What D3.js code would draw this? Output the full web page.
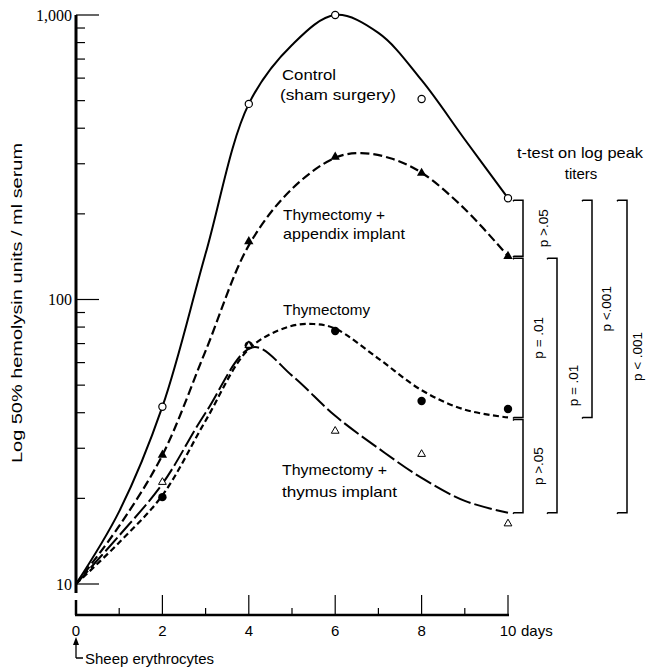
<!DOCTYPE html>
<html><head><meta charset="utf-8">
<script src="https://cdn.jsdelivr.net/npm/d3@7/dist/d3.min.js"></script>
<style>body{margin:0;background:#fff}svg{display:block}</style>
</head><body><svg id="c" width="646" height="670"></svg>
<script>
// ---- data ----
const pointDays = [2, 4, 6, 8, 10];
const controlPoints = [42, 487, 1000, 507, 227];
const appendixPoints = [28.4, 160, 317, 278, 142];
const thymectomyPoints = [20.2, 69, 77.5, 44, 41.2];
const thymusPoints = [22.8, 69, 34.5, 28.6, 16.3];

// fitted curves as drawn in the figure
const controlCurveDays = [0, 1, 2, 3, 4, 5, 6, 7, 8, 9, 10];
const controlCurve = [10, 18, 42, 145, 487, 785, 1000, 865, 590, 365, 227];
const appendixCurveDays = [0, 1, 2, 3, 4, 5, 6, 6.6, 7.3, 8, 9, 10];
const appendixCurve = [10, 16, 28.4, 66, 155, 245, 315, 327, 313, 279, 208, 142];
const thymectomyCurveDays = [0, 1, 2, 3, 4, 4.9, 5.5, 6, 7, 8, 9, 10];
const thymectomyCurve = [10, 14, 20.5, 37.5, 67, 80, 82, 79, 62, 48, 41, 38.5];
const thymusCurveDays = [0, 1, 2, 3, 4.1, 5, 6, 7, 8, 9, 10];
const thymusCurve = [10, 14.8, 22.5, 40, 68, 54, 39, 30, 23.6, 19.6, 17.8];

const xMajorTicks = [0, 2, 4, 6, 8, 10];
const xTickLabels = ["0", "2", "4", "6", "8", "10"];
const xMinorTicks = [1, 3, 5, 7, 9];
const yMajorTicks = [10, 100, 1000];
const yTickLabels = ["10", "100", "1,000"];
const yMinorTicks = [20, 30, 40, 50, 60, 70, 80, 90, 200, 300, 400, 500, 600, 700, 800, 900];
const pLabels = ["p >.05", "p = .01", "p >.05", "p = .01", "p <.001", "p < .001"];

// ---- drawing ----
const svg = d3.select("#c");
const x = d3.scaleLinear().domain([0, 10]).range([76, 508]);
const y = d3.scaleLog().domain([10, 1000]).range([584, 15]);
const sans = "Liberation Sans, Arial, sans-serif";
const serif = "Liberation Serif, Times New Roman, serif";

// y axis
svg.append("line").attr("x1", 76).attr("x2", 76).attr("y1", y(1000)).attr("y2", 593)
  .attr("stroke", "#000").attr("stroke-width", 3);
svg.selectAll(".ymaj").data(yMajorTicks).enter().append("line")
  .attr("x1", 76).attr("x2", 99).attr("y1", d => y(d)).attr("y2", d => y(d))
  .attr("stroke", "#000").attr("stroke-width", 1.2);
svg.selectAll(".ymin").data(yMinorTicks).enter().append("line")
  .attr("x1", 76).attr("x2", 85).attr("y1", d => y(d)).attr("y2", d => y(d))
  .attr("stroke", "#000").attr("stroke-width", 1.2);
svg.selectAll(".ylab").data(yMajorTicks).enter().append("text")
  .attr("x", 72).attr("y", d => y(d)).attr("dy", "0.35em")
  .attr("text-anchor", "end").attr("font-family", serif).attr("font-size", 16)
  .text((d, i) => yTickLabels[i]);

// x axis
const xAxisY = 615;
svg.append("line").attr("x1", x(0) - 1).attr("x2", x(10) + 1).attr("y1", xAxisY).attr("y2", xAxisY)
  .attr("stroke", "#000").attr("stroke-width", 2.5);
svg.selectAll(".xmaj").data(xMajorTicks).enter().append("line")
  .attr("x1", d => x(d)).attr("x2", d => x(d)).attr("y1", xAxisY).attr("y2", d => d === 0 ? 600 : 595)
  .attr("stroke", "#000").attr("stroke-width", d => d === 0 ? 2.5 : 1.2);
svg.selectAll(".xmin").data(xMinorTicks).enter().append("line")
  .attr("x1", d => x(d)).attr("x2", d => x(d)).attr("y1", xAxisY).attr("y2", 608)
  .attr("stroke", "#000").attr("stroke-width", 1.2);
svg.selectAll(".xlab").data(xMajorTicks).enter().append("text")
  .attr("x", d => x(d)).attr("y", 636).attr("text-anchor", "middle")
  .attr("font-family", sans).attr("font-size", 15)
  .text((d, i) => xTickLabels[i]);
svg.append("text").attr("x", x(10) + 13).attr("y", 636)
  .attr("font-family", sans).attr("font-size", 15).text("days");

// y title
svg.append("text").attr("transform", "translate(17,303) rotate(-90)")
  .attr("text-anchor", "middle").attr("dy", "0.35em")
  .attr("font-family", sans).attr("font-size", 14)
  .attr("textLength", 320).attr("lengthAdjust", "spacingAndGlyphs")
  .text("Log 50% hemolysin units / ml serum");

// Sheep erythrocytes annotation
svg.append("path").attr("d", "M76,658 L76,642 M83,658 L76,658")
  .attr("fill", "none").attr("stroke", "#000").attr("stroke-width", 1.3);
svg.append("path").attr("d", "M76,637 L73,645 L79,645 Z").attr("fill", "#000");
svg.append("text").attr("x", 85).attr("y", 664)
  .attr("font-family", sans).attr("font-size", 15)
  .attr("textLength", 129).attr("lengthAdjust", "spacingAndGlyphs")
  .text("Sheep erythrocytes");

// curves
const line = d3.line().x(d => x(d[0])).y(d => y(d[1])).curve(d3.curveCatmullRom.alpha(0.5));
const series = [
  {days: controlCurveDays, vals: controlCurve, dash: null, w: 2},
  {days: appendixCurveDays, vals: appendixCurve, dash: "9,4", w: 2.2},
  {days: thymectomyCurveDays, vals: thymectomyCurve, dash: "6,3.5", w: 2.2},
  {days: thymusCurveDays, vals: thymusCurve, dash: "18,4", w: 2}
];
series.forEach(s => {
  svg.append("path").datum(s.days.map((d, i) => [d, s.vals[i]]))
    .attr("d", line).attr("fill", "none").attr("stroke", "#000")
    .attr("stroke-width", s.w).attr("stroke-dasharray", s.dash);
});

// markers
const pts = arr => pointDays.map((d, i) => [d, arr[i]]);
svg.selectAll(".mth").data(pts(thymusPoints)).enter().append("path")
  .attr("transform", d => `translate(${x(d[0])},${y(d[1])})`)
  .attr("d", d3.symbol(d3.symbolTriangle, 26)).attr("fill", "#fff").attr("stroke", "#000").attr("stroke-width", 1);
svg.selectAll(".mtc").data(pts(thymectomyPoints)).enter().append("circle")
  .attr("cx", d => x(d[0])).attr("cy", d => y(d[1])).attr("r", 4.2).attr("fill", "#000");
svg.selectAll(".map").data(pts(appendixPoints)).enter().append("path")
  .attr("transform", d => `translate(${x(d[0])},${y(d[1])})`)
  .attr("d", d3.symbol(d3.symbolTriangle, 38)).attr("fill", "#000");
svg.selectAll(".mct").data(pts(controlPoints)).enter().append("circle")
  .attr("cx", d => x(d[0])).attr("cy", d => y(d[1])).attr("r", 3.6)
  .attr("fill", "#fff").attr("stroke", "#000").attr("stroke-width", 1.2);
// open triangle visible inside filled circle at day 4
svg.append("path").attr("transform", `translate(${x(4)},${y(thymusPoints[1])})`)
  .attr("d", d3.symbol(d3.symbolTriangle, 10)).attr("fill", "#fff");

// curve labels
function label(xp, yp, txt, len) {
  svg.append("text").attr("x", xp).attr("y", yp).attr("font-family", sans).attr("font-size", 15)
    .attr("textLength", len).attr("lengthAdjust", "spacingAndGlyphs").text(txt);
}
label(282, 80, "Control", 54);
label(280, 100, "(sham surgery)", 116);
label(283, 220, "Thymectomy +", 102);
label(283, 239, "appendix implant", 122);
label(283, 315, "Thymectomy", 87);
label(282, 475, "Thymectomy +", 105);
label(282, 497, "thymus implant", 115);

// t-test title
svg.append("text").attr("x", 580).attr("y", 158).attr("text-anchor", "middle")
  .attr("font-family", sans).attr("font-size", 15)
  .attr("textLength", 126).attr("lengthAdjust", "spacingAndGlyphs").text("t-test on log peak");
svg.append("text").attr("x", 581).attr("y", 179).attr("text-anchor", "middle")
  .attr("font-family", sans).attr("font-size", 15).text("titers");

// brackets linking day-10 curve ends
const lv = [controlCurve, appendixCurve, thymectomyCurve, thymusCurve].map(a => y(a[a.length - 1]));
const brackets = [
  {bx: 523, a: 0, b: 1, lx: 543},
  {bx: 523, a: 1, b: 2, lx: 538},
  {bx: 523, a: 2, b: 3, lx: 538},
  {bx: 557, a: 1, b: 3, lx: 573},
  {bx: 592, a: 0, b: 2, lx: 606},
  {bx: 627, a: 0, b: 3, lx: 637}
];
brackets.forEach((br, i) => {
  const y1 = lv[br.a] + 2, y2 = lv[br.b];
  svg.append("path")
    .attr("d", `M${br.bx - 10},${y1 + 1} L${br.bx - 9},${y1} L${br.bx},${y1} L${br.bx},${y2} L${br.bx - 9},${y2} L${br.bx - 10},${y2 + 1}`)
    .attr("fill", "none").attr("stroke", "#000").attr("stroke-width", 1.5);
  svg.append("text").attr("transform", `translate(${br.lx},${(y1 + y2) / 2}) rotate(-90)`)
    .attr("text-anchor", "middle").attr("dy", "0.35em")
    .attr("font-family", sans).attr("font-size", 13.5).text(pLabels[i]);
});
</script></body></html>
